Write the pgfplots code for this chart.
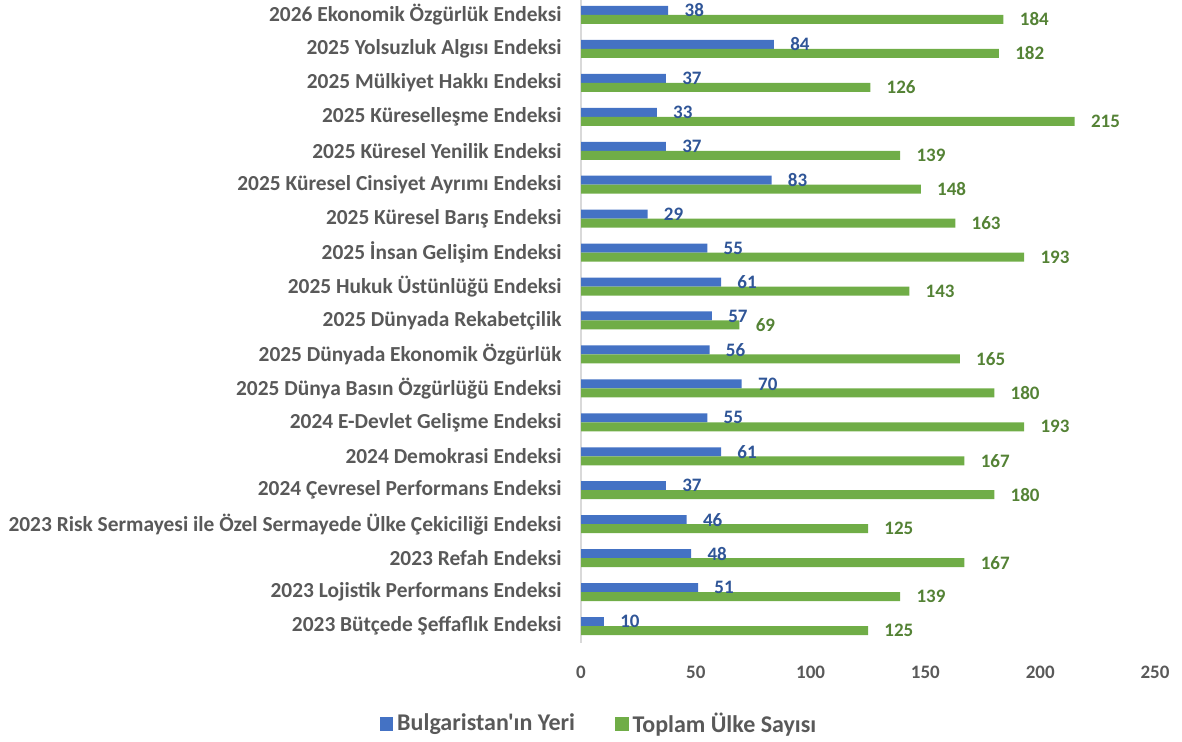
\documentclass[border=0pt]{standalone}
\usepackage{fontspec}
\setmainfont{Carlito}[Ligatures=TeXOff]
\usepackage{pgfplots}
\pgfplotsset{compat=1.18}
\definecolor{barblue}{HTML}{4472C4}
\definecolor{bargreen}{HTML}{70AD47}
\definecolor{lblblue}{HTML}{2F5597}
\definecolor{lblgreen}{HTML}{548235}
\definecolor{txtgray}{HTML}{595959}
\definecolor{axgray}{HTML}{D9D9D9}
\begin{document}
\begin{tikzpicture}
\useasboundingbox (0,0) rectangle (591pt,371pt);
\begin{axis}[
  at={(290.5pt,49.5pt)}, anchor=south west,
  scale only axis, width=287pt, height=322.5pt,
  xmin=0, xmax=250, ymin=-0.5, ymax=18.5,
  xtick={0,50,100,150,200,250},
  ytick={0,...,18},
  yticklabels={
    {2023 Bütçede Şeffaflık Endeksi},
    {2023 Lojistik Performans Endeksi},
    {2023 Refah Endeksi},
    {2023 Risk Sermayesi ile Özel Sermayede Ülke Çekiciliği Endeksi},
    {2024 Çevresel Performans Endeksi},
    {2024 Demokrasi Endeksi},
    {2024 E-Devlet Gelişme Endeksi},
    {2025 Dünya Basın Özgürlüğü Endeksi},
    {2025 Dünyada Ekonomik Özgürlük},
    {2025 Dünyada Rekabetçilik},
    {2025 Hukuk Üstünlüğü Endeksi},
    {2025 İnsan Gelişim Endeksi},
    {2025 Küresel Barış Endeksi},
    {2025 Küresel Cinsiyet Ayrımı Endeksi},
    {2025 Küresel Yenilik Endeksi},
    {2025 Küreselleşme Endeksi},
    {2025 Mülkiyet Hakkı Endeksi},
    {2025 Yolsuzluk Algısı Endeksi},
    {2026 Ekonomik Özgürlük Endeksi}},
  axis y line*=left, axis x line*=bottom,
  x axis line style={draw=none},
  y axis line style={draw=axgray, line width=0.6pt},
  major tick length=0pt,
  /pgf/number format/assume math mode=true,
  tick label style={font=\fontsize{9.5}{11}\selectfont\bfseries, text=txtgray},
  yticklabel style={anchor=east, inner sep=0pt, xshift=-9.5pt, font=\fontsize{10.7}{12}\selectfont\bfseries},
  xticklabel style={anchor=center, inner sep=0pt, yshift=-14.5pt},
  xbar, bar width=4.5pt,
  nodes near coords,
  nodes near coords style={anchor=west, inner sep=0pt, xshift=8pt, font=\fontsize{9.5}{11}\selectfont\bfseries},
  legend columns=2,
  legend style={at={(axis description cs:0.033,-0.1256)}, anchor=center, draw=none, fill=none,
    font=\fontsize{12}{14}\selectfont\bfseries, text=txtgray,
    /tikz/every even column/.append style={column sep=18pt}},
  legend image code/.code={\fill[#1] (0pt,-3.4pt) rectangle (6.8pt,3.4pt);},
  clip=false,
]
\addplot[fill=barblue, draw=none, bar shift=2.25pt, nodes near coords style={text=lblblue}] coordinates {
(10,0) (51,1) (48,2) (46,3) (37,4) (61,5) (55,6) (70,7) (56,8) (57,9)
(61,10) (55,11) (29,12) (83,13) (37,14) (33,15) (37,16) (84,17) (38,18)};
\addlegendentry{Bulgaristan'ın Yeri}
\addplot[fill=bargreen, draw=none, bar shift=-2.25pt, nodes near coords style={text=lblgreen}] coordinates {
(125,0) (139,1) (167,2) (125,3) (180,4) (167,5) (193,6) (180,7) (165,8) (69,9)
(143,10) (193,11) (163,12) (148,13) (139,14) (215,15) (126,16) (182,17) (184,18)};
\addlegendentry{Toplam Ülke Sayısı}
\end{axis}
\end{tikzpicture}
\end{document}
